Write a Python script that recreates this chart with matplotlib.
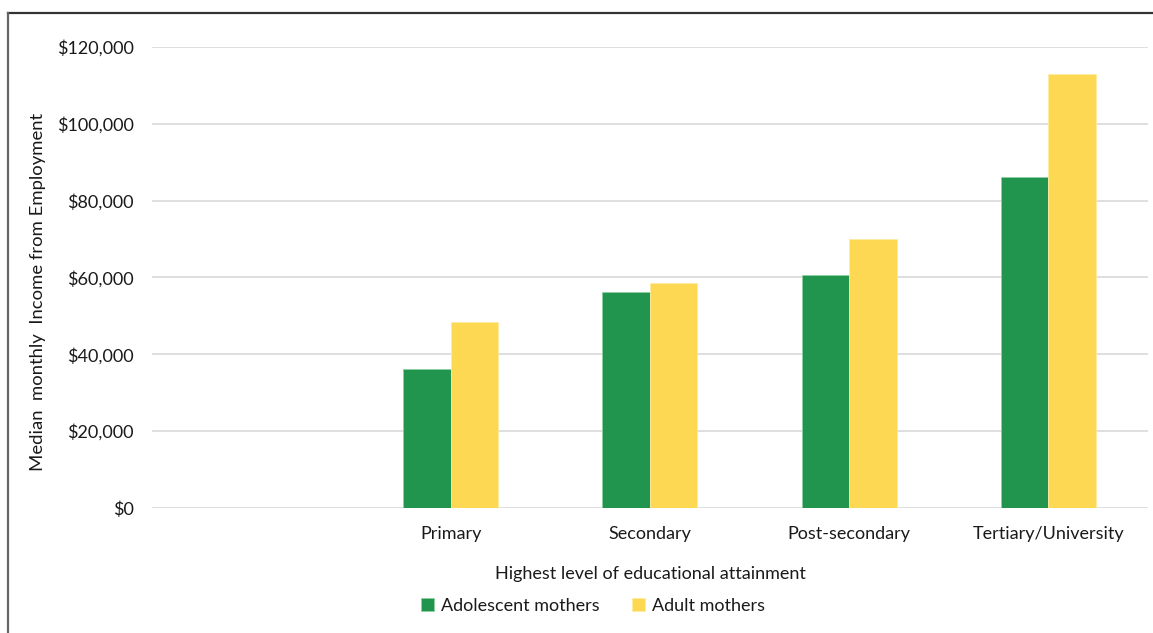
import matplotlib.pyplot as plt
from matplotlib.lines import Line2D
from matplotlib.ticker import FuncFormatter
import numpy as np

plt.rcParams['font.family'] = ['Lato', 'DejaVu Sans']

# education levels (first slot left blank, as in the source sheet)
levels = ['', 'Primary', 'Secondary', 'Post-secondary', 'Tertiary/University']
adolescent = [np.nan, 36200, 56100, 60600, 86100]
adult = [np.nan, 48400, 58600, 70100, 112900]
y_ticks = [0, 20000, 40000, 60000, 80000, 100000, 120000]

green = '#21944e'
yellow = '#fdd853'
txt = '#1a1a1a'

fig = plt.figure(figsize=(11.53, 6.33), dpi=100)
ax = fig.add_axes([0.1318, 0.1975, 0.8638, 0.7283])

x = np.arange(len(levels))
w = 0.2385
ax.bar(x - w / 2, adolescent, w, color=green, edgecolor='#8fcf9f', linewidth=0.6,
       label='Adolescent mothers', zorder=3)
ax.bar(x + w / 2, adult, w, color=yellow, edgecolor='#ffeaa0', linewidth=0.6,
       label='Adult mothers', zorder=3)

ax.set_xlim(-0.5, len(levels) - 0.5)
ax.set_ylim(0, 120000)
ax.set_yticks(y_ticks)
ax.yaxis.set_major_formatter(FuncFormatter(lambda v, p: '${:,.0f}'.format(v)))
ax.set_xticks(x)
ax.set_xticklabels(levels)
ax.tick_params(length=0, labelsize=13, colors=txt)
ax.tick_params(axis='y', pad=13)
ax.tick_params(axis='x', pad=13)
ax.grid(axis='y', color='#d9d9d9', linewidth=1.2, zorder=0)
for s in ax.spines.values():
    s.set_visible(False)

ax.set_ylabel('Median  monthly  Income from Employment', fontsize=13.3, color=txt)
ax.yaxis.set_label_coords(-0.1065, 0.468)
ax.set_xlabel('Highest level of educational attainment', fontsize=13,
              color=txt, labelpad=17)

ax.legend(loc='upper center', bbox_to_anchor=(0.443, -0.16), ncol=2, frameon=False,
          fontsize=13, handlelength=0.7, handleheight=0.7, handletextpad=0.4,
          columnspacing=1.8, labelcolor=txt)

# outer frame (top and left edges)
fig.add_artist(Line2D([8 / 1153, 1], [1 - 13 / 633] * 2, color='#333333', lw=1.6,
                      transform=fig.transFigure))
fig.add_artist(Line2D([8 / 1153] * 2, [0, 1 - 13 / 633], color='#666666', lw=1.6,
                      transform=fig.transFigure))

fig.savefig('out.png', dpi=100)
